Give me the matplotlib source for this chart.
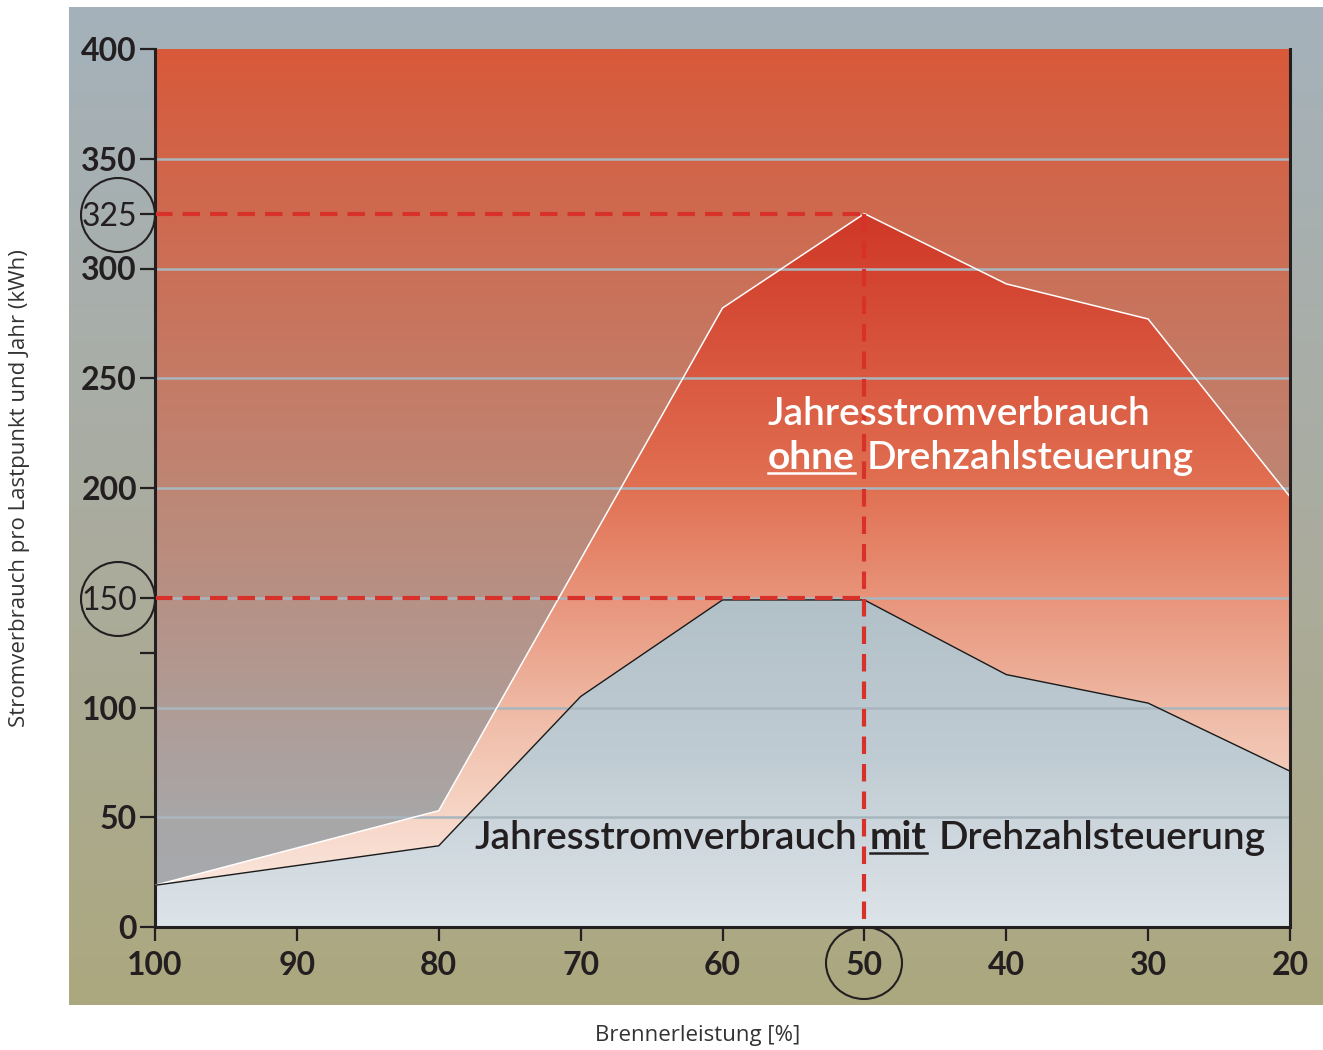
import numpy as np
import matplotlib
matplotlib.use("Agg")
import matplotlib.pyplot as plt
from matplotlib.patches import Polygon, Ellipse
from matplotlib.lines import Line2D

# --- Daten ---
brenner_ohne = [100, 80, 60, 50, 40, 30, 20]
verbrauch_ohne = [19, 53, 282, 325, 293, 277, 196]

brenner_mit = [100, 80, 70, 60, 50, 40, 30, 20]
verbrauch_mit = [19, 37, 105, 149, 149, 115, 102, 71]

x_ticks = [100, 90, 80, 70, 60, 50, 40, 30, 20]
y_ticks = [0, 50, 100, 125, 150, 200, 250, 300, 325, 350, 400]
y_labels = ["0", "50", "100", "", "150", "200", "250", "300", "325", "350", "400"]
grid_levels = [50, 100, 150, 200, 250, 300, 350]

ref_last = 50      # markierter Lastpunkt
ref_ohne = 325     # Verbrauch ohne Drehzahlsteuerung
ref_mit = 150      # Verbrauch mit Drehzahlsteuerung

plt.rcParams["font.family"] = ["Lato", "DejaVu Sans"]

W, H = 1323, 1050
TXT = "#231f20"


def px_box(l, t, r, b):
    return [l / W, 1 - b / H, (r - l) / W, (b - t) / H]


def gradient(stops, n=400):
    # stops: (pos 0=unten .. 1=oben, rgb)
    pos = np.array([s[0] for s in stops])
    cols = np.array([s[1] for s in stops], dtype=float) / 255
    t = np.linspace(0, 1, n)
    arr = np.stack([np.interp(t, pos, cols[:, i]) for i in range(3)], axis=-1)
    return arr[:, None, :]


fig = plt.figure(figsize=(W / 100, H / 100), dpi=100)
fig.patch.set_facecolor("white")

# Hintergrund-Panel
bg = fig.add_axes(px_box(69, 7, 1323, 1005))
bg.set_zorder(-5)
bg.axis("off")
bg.imshow(gradient([(0, (172, 168, 127)), (0.5, (170, 172, 160)), (1, (165, 178, 187))]),
          aspect="auto", origin="lower", extent=[0, 1, 0, 1])

ax = fig.add_axes(px_box(155, 49, 1290, 927))
ax.patch.set_visible(False)
ext = [100, 20, 0, 400]

# Flaeche oberhalb der Kurven
ax.imshow(gradient([(0, (166, 170, 176)), (0.12, (168, 167, 168)), (0.5, (190, 134, 116)),
                    (1, (216, 89, 58))]),
          aspect="auto", origin="lower", extent=ext, zorder=0)

# ohne Drehzahlsteuerung
poly_ohne = Polygon(np.column_stack([brenner_ohne + [20, 100], verbrauch_ohne + [0, 0]]),
                    closed=True, facecolor="none", edgecolor="none")
ax.add_patch(poly_ohne)
im1 = ax.imshow(gradient([(0, (252, 238, 232)), (0.12, (247, 215, 200)), (0.23, (240, 190, 170)),
                          (0.5, (225, 112, 82)), (0.8, (208, 58, 40)), (1, (205, 48, 32))]),
                aspect="auto", origin="lower", extent=ext, zorder=1)
im1.set_clip_path(poly_ohne)

# mit Drehzahlsteuerung
poly_mit = Polygon(np.column_stack([brenner_mit + [20, 100], verbrauch_mit + [0, 0]]),
                   closed=True, facecolor="none", edgecolor="none")
ax.add_patch(poly_mit)
im2 = ax.imshow(gradient([(0, (221, 228, 233)), (0.19, (192, 204, 211)), (0.375, (178, 192, 200)),
                          (1, (160, 175, 185))]),
                aspect="auto", origin="lower", extent=ext, zorder=1.1)
im2.set_clip_path(poly_mit)

for lvl in grid_levels:
    ax.axhline(lvl, color="#a9b6be", lw=1.8, zorder=2)

ax.plot(brenner_ohne, verbrauch_ohne, color="white", lw=1.1, zorder=3)
ax.plot(brenner_mit, verbrauch_mit, color="#1a1a1a", lw=1.0, zorder=3)

# gestrichelte Markierungen
dash = dict(color="#d8312a", lw=3.0, dashes=(4.2, 2.4), zorder=4, solid_capstyle="butt")
ax.plot([100, ref_last], [ref_ohne, ref_ohne], **dash)
ax.plot([100, ref_last], [ref_mit, ref_mit], **dash)
ax.plot([ref_last, ref_last], [ref_ohne, 0], **dash)

ax.set_xlim(100, 20)
ax.set_ylim(0, 400)

for s in ["left", "bottom", "right"]:
    ax.spines[s].set_color(TXT)
    ax.spines[s].set_linewidth(2.2)
ax.spines["top"].set_visible(False)
ax.spines["right"].set_zorder(5)

ax.set_xticks(x_ticks)
ax.set_xticklabels([str(v) for v in x_ticks])
ax.set_yticks(y_ticks)
ax.set_yticklabels(y_labels)
ax.tick_params(axis="y", direction="out", length=11, width=1.6, pad=2, labelsize=23, colors=TXT)
ax.tick_params(axis="x", direction="out", length=10, width=1.6, pad=7, labelsize=23, colors=TXT)
for lbl in ax.get_xticklabels():
    lbl.set_fontweight("bold")
for lbl in ax.get_yticklabels():
    lbl.set_fontweight("normal" if lbl.get_text() in ("325", "150") else "bold")

# Kreise um markierte Werte
circ = dict(transform=fig.transFigure, fill=False, edgecolor=TXT, lw=1.5, zorder=10)
fig.add_artist(Ellipse((118 / W, 1 - 215 / H), 74 / W, 74 / H, **circ))
fig.add_artist(Ellipse((118 / W, 1 - 599 / H), 74 / W, 74 / H, **circ))
fig.add_artist(Ellipse((864 / W, 1 - 963 / H), 76 / W, 72 / H, **circ))

# Achsentitel
fig.text(20 / W, 1 - 488 / H, "Stromverbrauch pro Lastpunkt und Jahr (kWh)", rotation=90,
         ha="center", va="center", fontsize=16, color="#333333", family=["Open Sans", "DejaVu Sans"])
fig.text(698 / W, 1 - 1035 / H, "Brennerleistung [%]", ha="center", va="center",
         fontsize=16, color="#333333", family=["Open Sans", "DejaVu Sans"])

renderer = fig.canvas.get_renderer()


def mixed_text(x0, y0, parts, color, size):
    x = x0
    for s, weight, underline in parts:
        t = fig.text(x / W, 1 - y0 / H, s, fontsize=size, fontweight=weight, color=color,
                     ha="left", va="baseline", zorder=8)
        bb = t.get_window_extent(renderer)
        if underline:
            fig.add_artist(Line2D([x / W, (x + bb.width) / W], [1 - (y0 + 4) / H] * 2,
                                  transform=fig.transFigure, color=color, lw=1.8, zorder=8))
        x += bb.width + 12


mixed_text(768, 425, [("Jahresstromverbrauch", "semibold", False)], "white", 28)
mixed_text(768, 469, [("ohne", "bold", True), ("Drehzahlsteuerung", "semibold", False)], "white", 28)
mixed_text(475, 849, [("Jahresstromverbrauch", "semibold", False), ("mit", "bold", True),
                      ("Drehzahlsteuerung", "semibold", False)], TXT, 28)

fig.savefig("out.png", dpi=100)
